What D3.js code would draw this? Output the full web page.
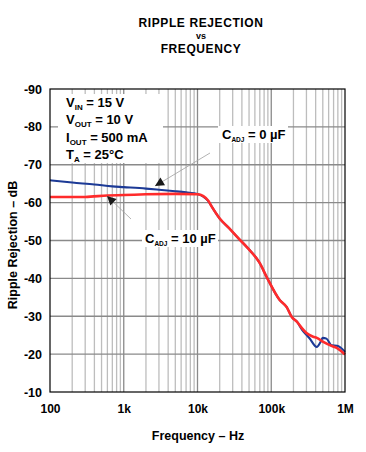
<!DOCTYPE html>
<html><head><meta charset="utf-8">
<script src="https://cdn.jsdelivr.net/npm/d3@7"></script>
<style>
html,body{margin:0;padding:0;background:#fff;}
svg text{font-family:"Liberation Sans",Arial,sans-serif;font-weight:bold;fill:#000;}
</style></head>
<body>
<svg id="c" width="366" height="452"></svg>
<script>
// ---- data ----
const xTickValues = [100, 1000, 10000, 100000, 1000000];
const xTickLabels = ["100", "1k", "10k", "100k", "1M"];
const yTickValues = [-90, -80, -70, -60, -50, -40, -30, -20, -10];
const yTickLabels = ["-90", "-80", "-70", "-60", "-50", "-40", "-30", "-20", "-10"];
const freqC0 = [100,200,400,700,1000,2000,3000,5000,7000,10000,12000,14000,16000,20000,27000,35000,47000,70000,87000,130000,162000,190000,224000,262000,330000,415000,460000,500000,560000,660000,780000,1000000];
const dbC0   = [-65.9,-65.3,-64.8,-64.3,-64.1,-63.7,-63.4,-63.0,-62.7,-62.3,-61.6,-60.4,-58.6,-55.8,-53.2,-50.8,-48.2,-44.0,-40.3,-34.3,-32.4,-29.8,-28.5,-26.4,-24.2,-21.9,-23,-24.3,-24.1,-22.3,-22.2,-20.6];
const freqC10 = [100,300,600,1000,2000,5000,10000,12000,14000,16000,20000,27000,35000,47000,70000,87000,130000,162000,190000,224000,262000,300000,370000,415000,500000,690000,780000,1000000];
const dbC10   = [-61.5,-61.5,-61.9,-62.0,-62.2,-62.3,-62.2,-61.7,-60.5,-58.6,-55.8,-53.2,-50.8,-48.2,-44.0,-40.3,-34.3,-32.4,-29.8,-28.5,-26.8,-25.6,-24.6,-24.3,-23.3,-22,-21.6,-19.9];
const titleLines = ["RIPPLE REJECTION", "vs", "FREQUENCY"];
const xTitle = "Frequency \u2013 Hz";
const yTitle = "Ripple Rejection \u2013 dB";

// ---- layout ----
const svg = d3.select("#c");
const L = 50, R = 345, T = 89, B = 392;
const x = d3.scaleLog().domain([100, 1e6]).range([L, R]);
const y = d3.scaleLinear().domain([-90, -10]).range([T, B]);

// grid
const minor = [];
for (let d = 100; d < 1e6; d *= 10) for (let k = 2; k <= 9; k++) minor.push(d * k);
const g = svg.append("g");
g.selectAll(".mn").data(minor).enter().append("line")
  .attr("x1", d => x(d)).attr("x2", d => x(d)).attr("y1", T).attr("y2", B)
  .attr("stroke", "#bdbdbd").attr("stroke-width", 1.3);
g.selectAll(".mj").data(xTickValues.slice(1, -1)).enter().append("line")
  .attr("x1", d => x(d)).attr("x2", d => x(d)).attr("y1", T).attr("y2", B)
  .attr("stroke", "#8a8a8a").attr("stroke-width", 1.3);
g.selectAll(".hz").data(yTickValues.slice(1, -1)).enter().append("line")
  .attr("x1", L).attr("x2", R).attr("y1", d => y(d)).attr("y2", d => y(d))
  .attr("stroke", "#8a8a8a").attr("stroke-width", 1.3);

// legend box (white, covering grid)
svg.append("rect").attr("x", 58).attr("y", 94).attr("width", 105).attr("height", 69).attr("fill", "#fff");

// curves
const line = d3.line().x(d => x(d[0])).y(d => y(d[1])).curve(d3.curveMonotoneX);
svg.append("path").datum(d3.zip(freqC0, dbC0)).attr("d", line)
  .attr("fill", "none").attr("stroke", "#1c3a96").attr("stroke-width", 2.1);
svg.append("path").datum(d3.zip(freqC10, dbC10)).attr("d", line)
  .attr("fill", "none").attr("stroke", "#ff2b2b").attr("stroke-width", 2.6);

// frame
svg.append("rect").attr("x", L).attr("y", T).attr("width", R - L).attr("height", B - T)
  .attr("fill", "none").attr("stroke", "#000").attr("stroke-width", 1.2);

// axes
const xAxis = d3.axisBottom(x).tickValues(xTickValues).tickFormat((d, i) => xTickLabels[i]).tickSize(0).tickPadding(12);
const xg = svg.append("g").attr("transform", `translate(0,${B})`).call(xAxis);
xg.select(".domain").remove();
xg.selectAll("text").style("font-size", "12px").style("font-family", "Liberation Sans, Arial").style("font-weight", "bold");
const yAxis = d3.axisLeft(y).tickValues(yTickValues).tickFormat((d, i) => yTickLabels[i]).tickSize(0).tickPadding(8);
const yg = svg.append("g").attr("transform", `translate(${L},0)`).call(yAxis);
yg.select(".domain").remove();
yg.selectAll("text").style("font-size", "12.5px").style("font-family", "Liberation Sans, Arial").style("font-weight", "bold");

// titles
svg.append("text").attr("x", 201).attr("y", 27).attr("text-anchor", "middle").style("font-size", "12px").style("letter-spacing", "0.6px").text(titleLines[0]);
svg.append("text").attr("x", 201).attr("y", 38.5).attr("text-anchor", "middle").style("font-size", "9px").text(titleLines[1]);
svg.append("text").attr("x", 201).attr("y", 53).attr("text-anchor", "middle").style("font-size", "12px").style("letter-spacing", "0.6px").text(titleLines[2]);
svg.append("text").attr("x", 198).attr("y", 440).attr("text-anchor", "middle").style("font-size", "12.5px").text(xTitle);
svg.append("text").attr("transform", "translate(17,245) rotate(-90)").attr("text-anchor", "middle").style("font-size", "12.5px").text(yTitle);

// conditions text
function sub(sel, main, subscript, rest, subSize) {
  const t = sel.append("text").style("font-size", "13px");
  t.append("tspan").text(main);
  t.append("tspan").attr("dy", 3).style("font-size", (subSize || 8) + "px").text(subscript);
  t.append("tspan").attr("dy", -3).text(rest);
  return t;
}
sub(svg, "V", "IN", " = 15 V").attr("x", 66).attr("y", 107);
sub(svg, "V", "OUT", " = 10 V").attr("x", 66).attr("y", 124);
sub(svg, "I", "OUT", " = 500 mA").attr("x", 66).attr("y", 141.5);
sub(svg, "T", "A", " = 25\u00B0C").attr("x", 66).attr("y", 159);

// annotations
function arrow(x1, y1, x2, y2) {
  svg.append("line").attr("x1", x1).attr("y1", y1).attr("x2", x2).attr("y2", y2)
    .attr("stroke", "#a0a0a0").attr("stroke-width", 0.8);
  const a = Math.atan2(y2 - y1, x2 - x1), len = 9, w = 4.5;
  const bx = x2 - len * Math.cos(a), by = y2 - len * Math.sin(a);
  const px = -Math.sin(a) * w, py = Math.cos(a) * w;
  svg.append("path").attr("d", `M${x2},${y2}L${bx + px},${by + py}L${bx - px},${by - py}Z`).attr("fill", "#1a1a1a");
}
arrow(210, 153, 155, 186);
arrow(131, 219, 107, 196);
svg.append("rect").attr("x", 218).attr("y", 126).attr("width", 70).attr("height", 17).attr("fill", "#fff");
sub(svg, "C", "ADJ", " = 0 \u00B5F", 6.5).attr("x", 222).attr("y", 139);
svg.append("rect").attr("x", 142).attr("y", 230).attr("width", 76).attr("height", 17).attr("fill", "#fff");
sub(svg, "C", "ADJ", " = 10 \u00B5F", 6.5).attr("x", 145).attr("y", 243);
</script>
</body></html>
